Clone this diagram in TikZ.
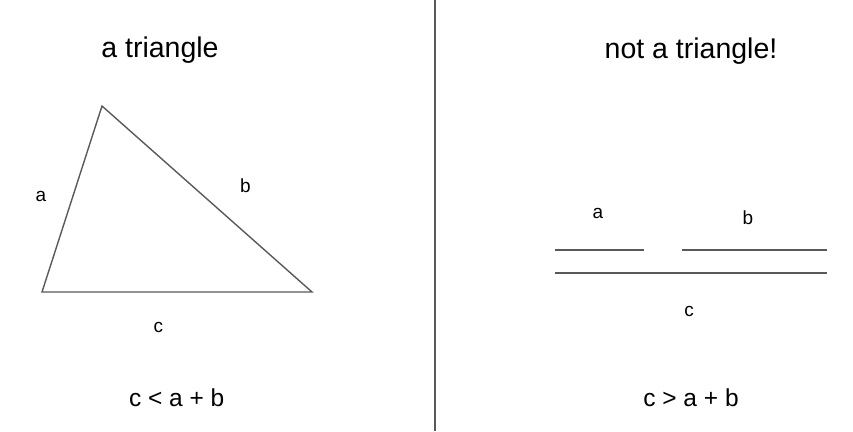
\documentclass[tikz,border=0pt]{standalone}
\usepackage{fontspec}
\setmainfont{Liberation Sans}
\tikzset{
  edge/.style={draw=black!65, line width=1.4pt},
  lbl/.style={inner sep=0pt, font=\fontsize{19}{22}\selectfont},
  ttl/.style={inner sep=0pt, anchor=base, font=\fontsize{28.5}{32}\selectfont},
  rel/.style={inner sep=0pt, anchor=base, font=\fontsize{24.5}{28}\selectfont},
}
\begin{document}
\begin{tikzpicture}[x=1pt, y=-1pt]
\useasboundingbox (0,0) rectangle (853,431);
% divider
\coordinate (dtop) at (435,0);
\coordinate (dbot) at (435,431);
\draw[edge] (dtop) -- (dbot);
% titles
\node[ttl] (t1) at (160,57.7) {a triangle};
\node[ttl] (t2) at (691,58) {not a triangle!};
% triangle
\coordinate (A) at (102,106);
\coordinate (B) at (42,292);
\coordinate (C) at (312,292);
\draw[edge, line join=miter] (A) -- (B) -- (C) -- cycle;
\node[lbl] (la) at (41,196) {a};
\node[lbl] (lb) at (245.5,185.7) {b};
\node[lbl] (lc) at (158.3,327) {c};
% not a triangle
\coordinate (a1) at (555,250);
\coordinate (a2) at (644,250);
\coordinate (b1) at (682,250);
\coordinate (b2) at (827,250);
\coordinate (c1) at (555,273);
\coordinate (c2) at (827,273);
\draw[edge] (a1) -- (a2);
\draw[edge] (b1) -- (b2);
\draw[edge] (c1) -- (c2);
\node[lbl] (ra) at (598,213.8) {a};
\node[lbl] (rb) at (748,217.8) {b};
\node[lbl] (rc) at (689,311.7) {c};
% relations
\node[rel] (r1) at (176.7,406) {c < a + b};
\node[rel] (r2) at (691,406) {c > a + b};
\end{tikzpicture}
\end{document}
